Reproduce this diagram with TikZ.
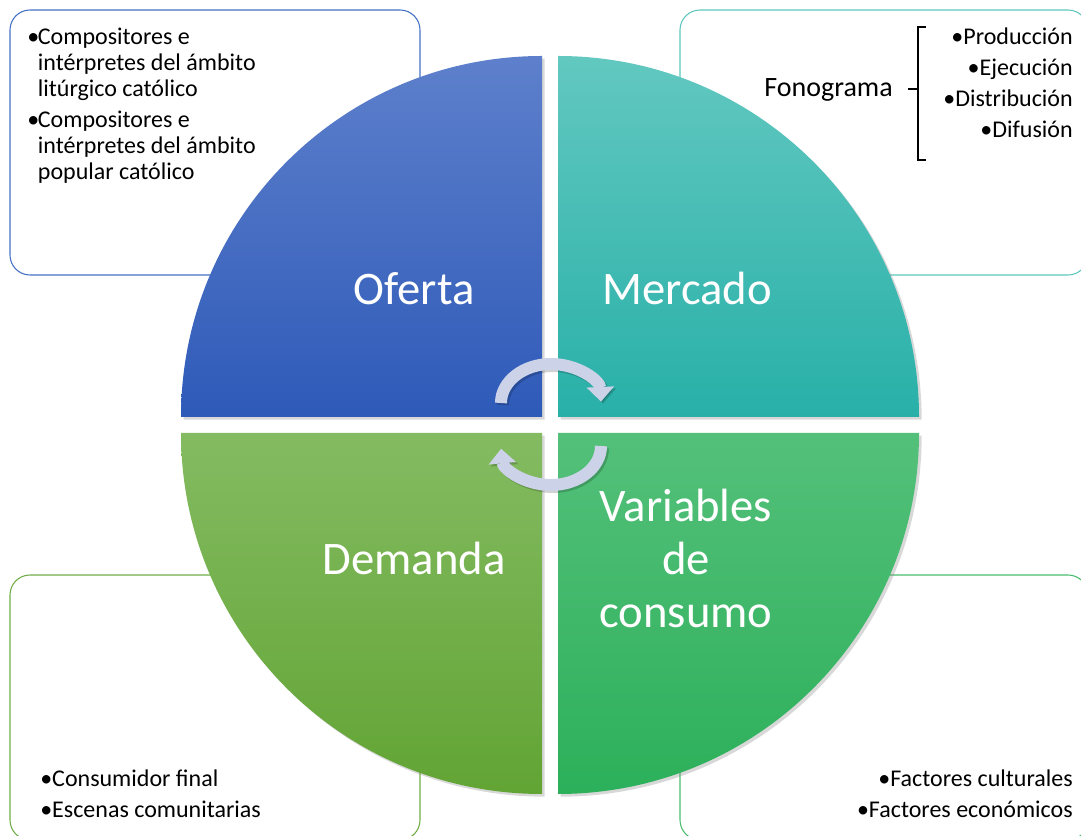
\documentclass[tikz,border=0pt]{standalone}
\usepackage{fontspec}
\setmainfont{Carlito}
\usetikzlibrary{positioning,arrows.meta,shadows}

\definecolor{ofertaTop}{RGB}{94,128,204}
\definecolor{ofertaBot}{RGB}{46,90,184}
\definecolor{mercadoTop}{RGB}{98,200,192}
\definecolor{mercadoBot}{RGB}{40,176,168}
\definecolor{demandaTop}{RGB}{132,187,98}
\definecolor{demandaBot}{RGB}{98,164,52}
\definecolor{consumoTop}{RGB}{84,192,122}
\definecolor{consumoBot}{RGB}{44,176,90}
\definecolor{ofertaBorde}{RGB}{68,114,196}
\definecolor{mercadoBorde}{RGB}{92,200,190}
\definecolor{demandaBorde}{RGB}{112,173,71}
\definecolor{consumoBorde}{RGB}{75,190,110}
\definecolor{ciclo}{RGB}{204,210,232}

\newcommand{\vineta}{\makebox[8pt][l]{\textbullet}}
\newcommand{\sangria}{\hspace*{8pt}}

\tikzset{
  quad/.style={drop shadow={opacity=0.3,shadow xshift=2pt,shadow yshift=-2pt}},
  caja/.style={rounded corners=15pt,line width=0.8pt},
  titulo/.style={text=white,font=\fontsize{35}{39.75}\selectfont,align=center,inner sep=0pt},
  lista/.style={font=\fontsize{18}{23.25}\selectfont,inner sep=0pt},
  flecha/.style={ciclo,line width=9pt,-{Triangle[width=20pt,length=11pt]}},
  sombra/.style={black,opacity=0.18,line width=9pt,-{Triangle[width=20pt,length=11pt]},xshift=1.5pt,yshift=-1.5pt}
}

\begin{document}
\begin{tikzpicture}[x=0.75pt,y=0.75pt]
    \clip (0,0) rectangle (1081,835);
    \fill[white] (0,0) rectangle (1081,835);

    % cajas
    \draw[caja,draw=ofertaBorde] (10,560) rectangle (420,825);
    \draw[caja,draw=mercadoBorde] (680,560) rectangle (1088,825);
    \draw[caja,draw=demandaBorde] (10,-5) rectangle (420,260);
    \draw[caja,draw=consumoBorde] (680,-5) rectangle (1088,260);

    % cuadrantes
    \path[quad,top color=ofertaTop,bottom color=ofertaBot] (542,418)--(181,418) arc(180:90:361)--cycle;
    \path[quad,top color=mercadoTop,bottom color=mercadoBot] (558,418)--(558,779) arc(90:0:361)--cycle;
    \path[quad,top color=demandaTop,bottom color=demandaBot] (542,402)--(181,402) arc(180:270:361)--cycle;
    \path[quad,top color=consumoTop,bottom color=consumoBot] (558,402)--(919,402) arc(0:-90:361)--cycle;

    \node[titulo,anchor=base] (oferta) at (414,530) {Oferta};
    \node[titulo,anchor=base] (mercado) at (687,530) {Mercado};
    \node[titulo,anchor=base] (demanda) at (414,260) {Demanda};
    \node[titulo,anchor=base] (consumo) at (686,207) {Variables\\de\\consumo};

    % flechas del ciclo
    \draw[sombra] (551,432) ++(180:50 and 39) arc[start angle=180,end angle=2,x radius=50,y radius=39];
    \draw[sombra] (551,389) ++(0:50 and 39) arc[start angle=0,end angle=-176,x radius=50,y radius=39];
    \draw[flecha] (551,432) ++(180:50 and 39) arc[start angle=180,end angle=2,x radius=50,y radius=39];
    \draw[flecha] (551,389) ++(0:50 and 39) arc[start angle=0,end angle=-176,x radius=50,y radius=39];

    % textos
    \node[font=\fontsize{18}{19.5}\selectfont,inner sep=0pt,align=left,anchor=base west] (ofertaLista) at (27,655)
      {\vineta Compositores e\\ \sangria intérpretes del ámbito\\ \sangria litúrgico católico\\[4pt]
       \vineta Compositores e\\ \sangria intérpretes del ámbito\\ \sangria popular católico};
    \node[font=\fontsize{21}{25}\selectfont,inner sep=0pt,anchor=base east] (fonograma) at (893,738) {Fonograma};
    \node[lista,align=right,anchor=base east] (mercadoLista) at (1073,697)
      {\textbullet Producción\\ \textbullet Ejecución\\ \textbullet Distribución\\ \textbullet Difusión};
    \node[lista,align=left,anchor=base west] (demandaLista) at (40,17)
      {\textbullet Consumidor final\\ \textbullet Escenas comunitarias};
    \node[lista,align=right,anchor=base east] (consumoLista) at (1073,17)
      {\textbullet Factores culturales\\ \textbullet Factores económicos};

    % llave
    \draw[line width=1.5pt] (926,808)--(918,808)--(918,675)--(926,675) (918,746)--(908,746);
\end{tikzpicture}
\end{document}
